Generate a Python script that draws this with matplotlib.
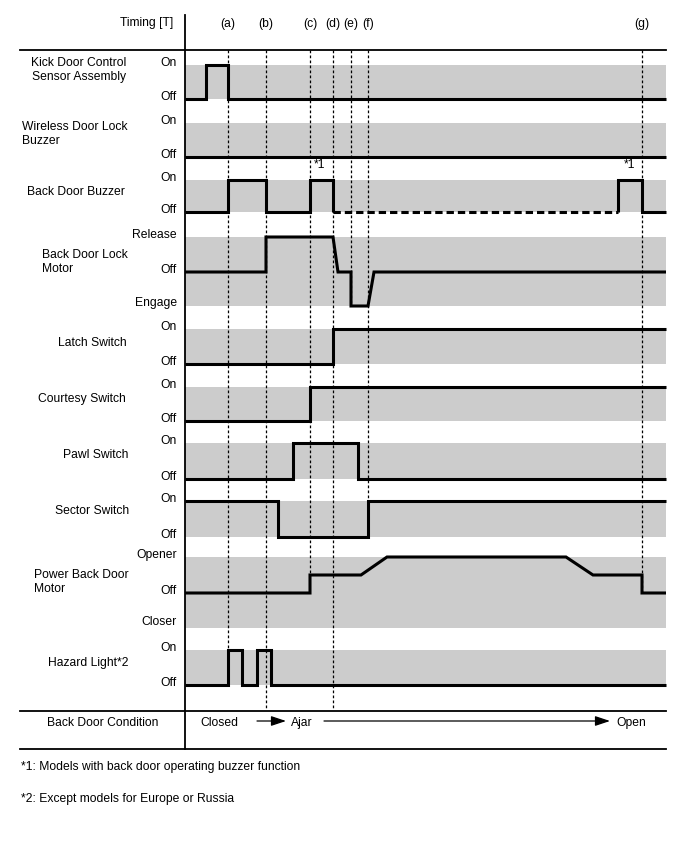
import matplotlib
matplotlib.use("Agg")
import matplotlib.pyplot as plt

plt.rcParams['font.family'] = ['Liberation Sans', 'DejaVu Sans']

# timing markers (horizontal position on the time axis)
timing_labels = ['(a)', '(b)', '(c)', '(d)', '(e)', '(f)', '(g)']
timing_pos = [228, 266, 310, 333, 351, 368, 642]

t_start, t_end = 185, 666

# waveforms: time breakpoints and levels
kick_t = [185, 206, 206, 228, 228, 666]
kick_v = [0, 0, 1, 1, 0, 0]
wireless_t = [185, 666]
wireless_v = [0, 0]
buzzer_t = [185, 228, 228, 266, 266, 310, 310, 333, 333]
buzzer_v = [0, 0, 1, 1, 0, 0, 1, 1, 0]
buzzer_opt_t = [333, 618]          # dashed part (*1)
buzzer_opt_v = [0, 0]
buzzer_end_t = [618, 618, 642, 642, 666]
buzzer_end_v = [0, 1, 1, 0, 0]
lock_t = [185, 266, 266, 333, 338, 351, 351, 368, 374, 666]
lock_v = [0, 0, 1, 1, 0, 0, -1, -1, 0, 0]   # 1 release, 0 off, -1 engage
latch_t = [185, 333, 333, 666]
latch_v = [0, 0, 1, 1]
courtesy_t = [185, 310, 310, 666]
courtesy_v = [0, 0, 1, 1]
pawl_t = [185, 293, 293, 358, 358, 666]
pawl_v = [0, 0, 1, 1, 0, 0]
sector_t = [185, 278, 278, 368, 368, 666]
sector_v = [1, 1, 0, 0, 1, 1]
pbd_t = [185, 310, 310, 361, 387, 566, 593, 642, 642, 666]
pbd_v = [0, 0, 0.5, 0.5, 1, 1, 0.5, 0.5, 0, 0]  # 1 opener, 0 off, -1 closer
hazard_t = [185, 228, 228, 242, 242, 257, 257, 271, 271, 666]
hazard_v = [0, 0, 1, 1, 0, 0, 1, 1, 0, 0]

GRAY = '#cccccc'
FS = 8.7

fig = plt.figure(figsize=(6.88, 8.52), dpi=100)
ax = fig.add_axes([0, 0, 1, 1])
ax.set_xlim(0, 688)
ax.set_ylim(852, 0)
ax.axis('off')

# rows: name, label x, align, band top, band bottom, {level: y}, level labels
rows = [
    ("Kick Door Control\nSensor Assembly", 79, 'center', 65, 99,
     {1: 65, 0: 99}, [('On', 65), ('Off', 99)]),
    ("Wireless Door Lock\nBuzzer", 22, 'left', 123, 157,
     {1: 123, 0: 157}, [('On', 123), ('Off', 157)]),
    ("Back Door Buzzer", 76, 'center', 180, 212,
     {1: 180, 0: 212}, [('On', 180), ('Off', 212)]),
    ("Back Door Lock\nMotor", 42, 'left', 237, 306,
     {1: 237, 0: 272, -1: 306}, [('Release', 237), ('Off', 272), ('Engage', 305)]),
    ("Latch Switch", 127, 'right', 329, 364,
     {1: 329, 0: 364}, [('On', 329), ('Off', 364)]),
    ("Courtesy Switch", 126, 'right', 387, 421,
     {1: 387, 0: 421}, [('On', 387), ('Off', 421)]),
    ("Pawl Switch", 128, 'right', 443, 479,
     {1: 443, 0: 479}, [('On', 443), ('Off', 479)]),
    ("Sector Switch", 129, 'right', 501, 537,
     {1: 501, 0: 537}, [('On', 501), ('Off', 537)]),
    ("Power Back Door\nMotor", 34, 'left', 557, 628,
     {1: 557, 0.5: 575, 0: 593, -1: 628}, [('Opener', 557), ('Off', 593), ('Closer', 624)]),
    ("Hazard Light*2", 128, 'right', 650, 685,
     {1: 650, 0: 685}, [('On', 650), ('Off', 685)]),
]
row_label_y = [70, 134, 192, 262, 343, 399, 455, 511, 582, 663]

for (name, lx, ha, top, bot, lv, llabels), ly in zip(rows, row_label_y):
    ax.fill_between([t_start, t_end], top, bot, color=GRAY, lw=0, zorder=0)
    ax.text(lx, ly, name, ha=ha, va='center', fontsize=FS, linespacing=1.2,
            multialignment='left' if ha == 'left' else 'center')
    for txt, y in llabels:
        ax.text(177, y - 2, txt, ha='right', va='center', fontsize=FS)

def draw(idx, t, v, **kw):
    lv = rows[idx][5]
    ax.plot(t, [lv[x] for x in v], color='black', lw=2.2, zorder=3,
            solid_joinstyle='miter', solid_capstyle='butt',
            dash_capstyle='butt', **kw)

draw(0, kick_t, kick_v)
draw(1, wireless_t, wireless_v)
draw(2, buzzer_t, buzzer_v)
draw(2, buzzer_opt_t, buzzer_opt_v, linestyle=(0, (2.4, 1.3)))
draw(2, buzzer_end_t, buzzer_end_v)
draw(3, lock_t, lock_v)
draw(4, latch_t, latch_v)
draw(5, courtesy_t, courtesy_v)
draw(6, pawl_t, pawl_v)
draw(7, sector_t, sector_v)
draw(8, pbd_t, pbd_v)
draw(9, hazard_t, hazard_v)

ax.text(320, 165, '*1', ha='center', va='center', fontsize=FS)
ax.text(630, 165, '*1', ha='center', va='center', fontsize=FS)

# timing markers and dashed guide lines
marker_end = [650, 710, 575, 710, 306, 502, 593]
for lab, x, yend in zip(timing_labels, timing_pos, marker_end):
    ax.text(x, 24, lab, ha='center', va='center', fontsize=FS)
    ax.plot([x, x], [50, yend], color='black', lw=0.9,
            linestyle=(0, (2.2, 1.8)), zorder=2)

ax.text(173, 23, 'Timing [T]', ha='right', va='center', fontsize=FS)

# frame lines
ax.plot([20, 666], [49.5, 49.5], color='black', lw=1.3, zorder=4)
ax.plot([20, 666], [710.5, 710.5], color='black', lw=1.3, zorder=4)
ax.plot([20, 666], [748.5, 748.5], color='black', lw=1.3, zorder=4)
ax.plot([185, 185], [15, 748.5], color='black', lw=1.3, zorder=4)

# back door condition row
ax.text(103, 723, 'Back Door Condition', ha='center', va='center', fontsize=FS)
ax.text(200, 723, 'Closed', ha='left', va='center', fontsize=FS)
ax.text(291, 723, 'Ajar', ha='left', va='center', fontsize=FS)
ax.text(616, 723, 'Open', ha='left', va='center', fontsize=FS)
arrow = dict(arrowstyle='-|>,head_length=0.9,head_width=0.3', color='black',
             lw=0.9, shrinkA=0, shrinkB=0)
ax.annotate('', xy=(286, 721), xytext=(257, 721), arrowprops=arrow)
ax.annotate('', xy=(610, 721), xytext=(324, 721), arrowprops=arrow)

ax.text(21, 767, '*1: Models with back door operating buzzer function',
        ha='left', va='center', fontsize=FS)
ax.text(21, 799, '*2: Except models for Europe or Russia',
        ha='left', va='center', fontsize=FS)

fig.savefig('out.png', dpi=100)
